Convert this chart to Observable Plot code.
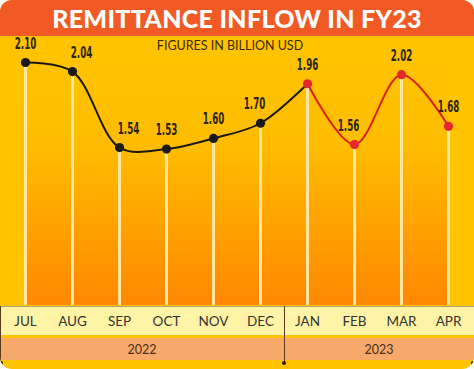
<!DOCTYPE html>
<html><head><meta charset="utf-8">
<script src="https://cdn.jsdelivr.net/npm/d3@7"></script>
<script src="https://cdn.jsdelivr.net/npm/@observablehq/plot@0.6"></script>
<style>
body{margin:0;background:#fff;}
#card{position:relative;width:474px;height:369px;background:#FFC300;border-radius:12px;overflow:hidden;font-family:Lato,"Open Sans",sans-serif;}
#title{position:absolute;left:0;top:0;width:474px;height:36px;background:#F15A24;color:#fff;font-weight:900;font-size:25px;line-height:37px;text-align:center;letter-spacing:0.3px;}
#sub{position:absolute;top:38px;left:0;width:460px;text-align:center;font-size:12.5px;color:#3d2b00;z-index:3;}
#mband{position:absolute;left:0;top:306px;width:474px;height:29px;background:#FFF3A6;border-top:1px solid rgba(110,90,40,0.55);box-sizing:border-box;}
#yband{position:absolute;left:0;top:338px;width:474px;height:22px;background:#F6A96B;display:flex;}
#yband div{text-align:center;line-height:23px;font-size:12.5px;color:#4a2e14;}
.vline{position:absolute;top:306px;width:1px;height:57px;background:#5a3c1c;}
.dot{position:absolute;top:361px;width:4px;height:4px;border-radius:2px;background:#2a1a0a;}
#chart{position:absolute;left:0;top:36px;z-index:2;}
</style></head>
<body>
<div id="card">
  <div id="title">REMITTANCE INFLOW IN FY23</div>
  <div id="mband"></div>
  <div id="yband"></div>
  <div class="vline" style="left:0px"></div>
  <div class="vline" style="left:284px"></div>
  <div class="dot" style="left:-1px"></div>
  <div class="dot" style="left:282px"></div>
  <div class="dot" style="left:471px"></div>
  <div id="sub">FIGURES IN BILLION USD</div>
  <div id="chart"></div>
</div>
<script>
const months = ["JUL","AUG","SEP","OCT","NOV","DEC","JAN","FEB","MAR","APR"];
const values = [2.10, 2.04, 1.54, 1.53, 1.60, 1.70, 1.96, 1.56, 2.02, 1.68];
const years = ["2022","2023"];

const data = months.map((m, i) => ({month: m, value: values[i], i}));
const firstRed = months.indexOf("JAN");
const blackPart = data.filter(d => d.i <= firstRed);
const redPart = data.filter(d => d.i >= firstRed);
const yMin = 0.5;
const yMax = d3.max(values);

// year band
const yb = document.getElementById("yband");
const widths = [284, 190];
years.forEach((y, k) => {
  const c = document.createElement("div");
  c.style.width = widths[k] + "px";
  c.textContent = y;
  yb.appendChild(c);
});

const rightShift = ["AUG","SEP"];
const leftShift = ["DEC","FEB"];
const labelFont = {fontFamily: "'DejaVu Sans', sans-serif", fontWeight: "bold", fontSize: 15, fill: "#2b2418"};

const plot = Plot.plot({
  width: 474,
  height: 333,
  marginTop: 26,
  marginBottom: 64,
  marginLeft: 23.5,
  marginRight: 24,
  style: {background: "transparent", overflow: "visible"},
  x: {type: "point", domain: months, padding: 0, label: null},
  y: {domain: [yMin, yMax], axis: null},
  marks: [
    Plot.areaY(data, {x: "month", y1: () => yMin, y2: () => yMax, fill: "url(#bgGrad)"}),
    Plot.ruleX(data, {x: "month", y1: () => yMin, y2: "value", stroke: "#FFE6A3", strokeWidth: 3}),
    Plot.line(blackPart, {x: "month", y: "value", curve: "catmull-rom", stroke: "#1c1a16", strokeWidth: 2}),
    Plot.line(redPart, {x: "month", y: "value", curve: "catmull-rom", stroke: "#D9201E", strokeWidth: 2}),
    Plot.dot(blackPart.filter(d => d.i < firstRed), {x: "month", y: "value", r: 4.6, fill: "#1c1a16"}),
    Plot.dot(redPart, {x: "month", y: "value", r: 4.6, fill: "#E5262B"}),
    Plot.text(data.filter(d => !rightShift.includes(d.month) && !leftShift.includes(d.month)), {x: "month", y: "value", text: d => d.value.toFixed(2), dy: -14, ...labelFont}),
    Plot.text(data.filter(d => rightShift.includes(d.month)), {x: "month", y: "value", text: d => d.value.toFixed(2), dy: -14, dx: 9, ...labelFont}),
    Plot.text(data.filter(d => leftShift.includes(d.month)), {x: "month", y: "value", text: d => d.value.toFixed(2), dy: -14, dx: -6, ...labelFont}),
    Plot.axisX({tickSize: 0, tickPadding: 11, fontSize: 13.5, fontFamily: "Lato, sans-serif", color: "#333333", label: null})
  ]
});

const svg = d3.select(plot);
svg.selectAll("g[aria-label='text'] text").each(function() {
  const t = d3.select(this);
  const x = +t.attr("x") || 0, y = +t.attr("y") || 0;
  const tr = t.attr("transform") || "";
  t.attr("x", null).attr("y", null).attr("transform", `${tr} translate(${x},${y}) scale(0.58,1)`);
});
const defs = svg.insert("defs", ":first-child");
const g = defs.append("linearGradient").attr("id", "bgGrad").attr("x1", 0).attr("y1", 0).attr("x2", 0).attr("y2", 1);
g.append("stop").attr("offset", "0%").attr("stop-color", "#FFC300");
g.append("stop").attr("offset", "35%").attr("stop-color", "#FFBC00");
g.append("stop").attr("offset", "100%").attr("stop-color", "#FF8800");

document.getElementById("chart").appendChild(plot);
</script>
</body></html>
